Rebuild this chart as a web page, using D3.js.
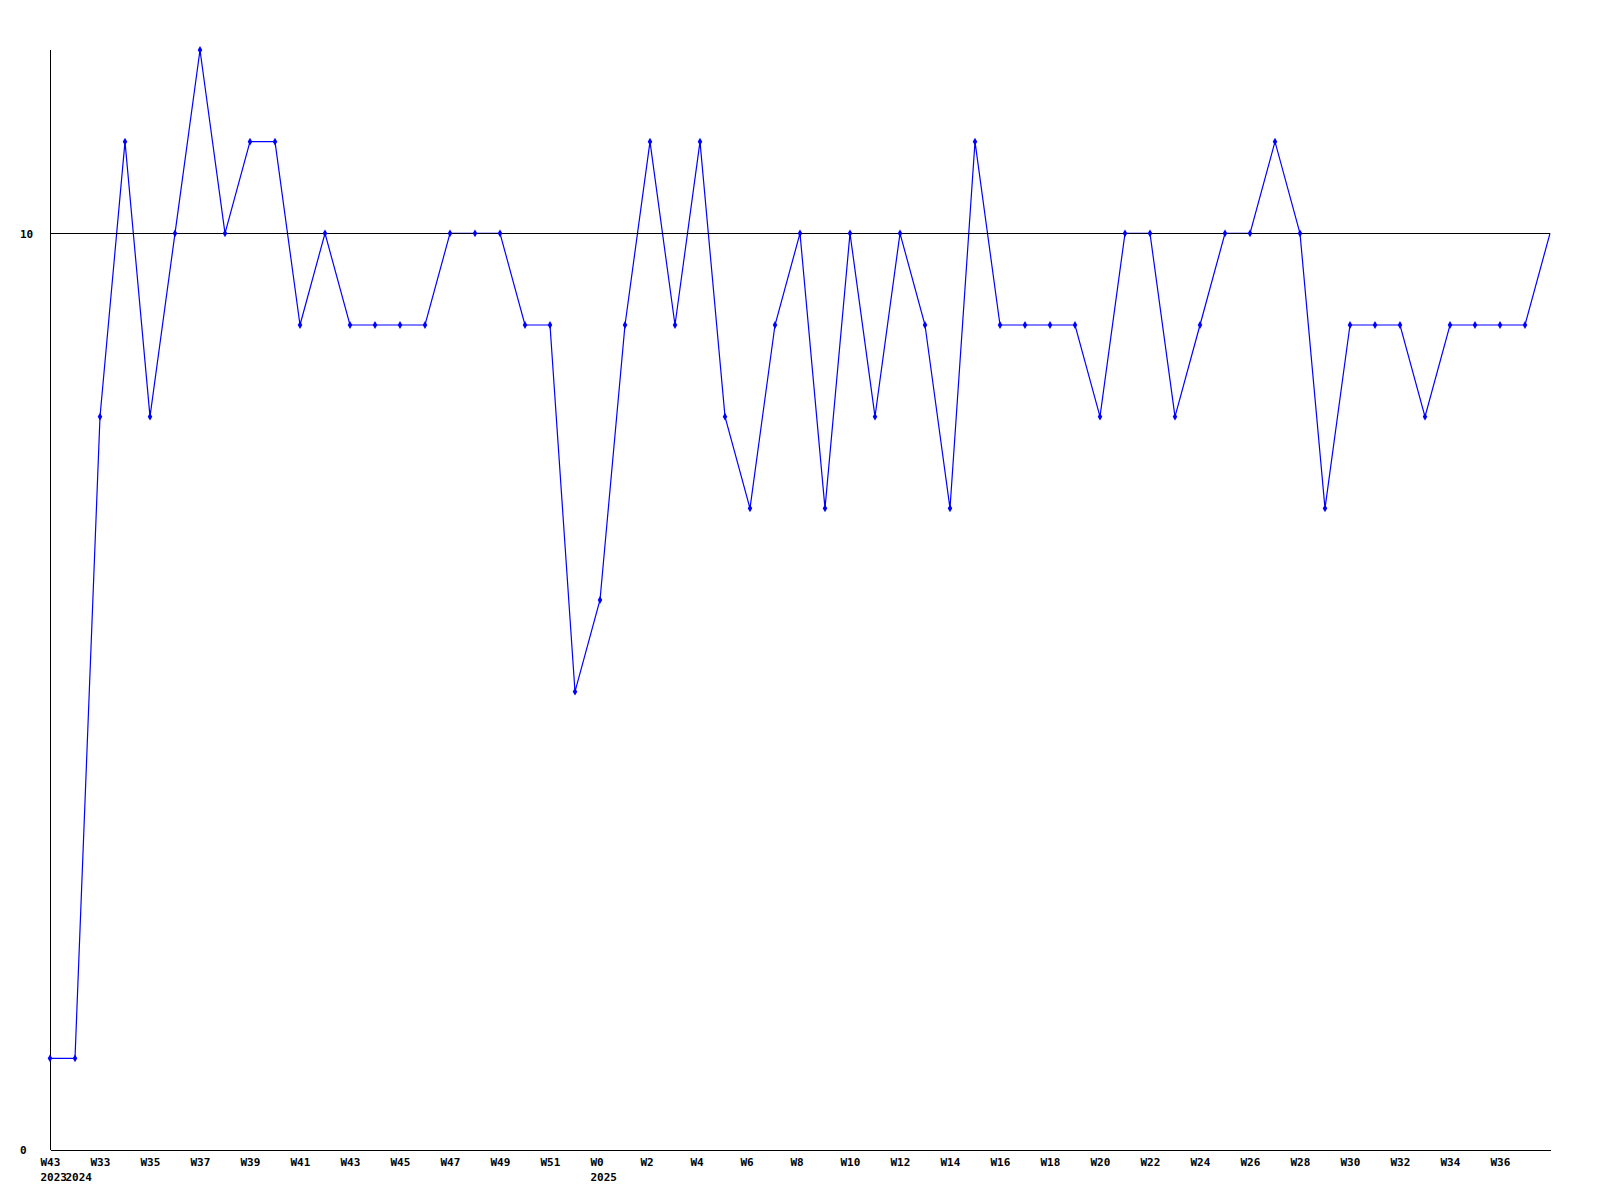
<!DOCTYPE html>
<html>
<head>
<meta charset="utf-8">
<script src="https://cdn.jsdelivr.net/npm/d3@7"></script>
<style>
  body { margin: 0; background: #fff; }
  text { font-family: "DejaVu Sans Mono", "Liberation Mono", monospace; font-size: 11px; font-weight: bold; }
</style>
</head>
<body>
<svg></svg>
<script>
// weekly values, one per week
let weeks = [
    'W43', 'W32', 'W33', 'W34', 'W35', 'W36', 'W37', 'W38', 'W39', 'W40',
    'W41', 'W42', 'W43', 'W44', 'W45', 'W46', 'W47', 'W48', 'W49', 'W50',
    'W51', 'W52', 'W0', 'W1', 'W2', 'W3', 'W4', 'W5', 'W6', 'W7',
    'W8', 'W9', 'W10', 'W11', 'W12', 'W13', 'W14', 'W15', 'W16', 'W17',
    'W18', 'W19', 'W20', 'W21', 'W22', 'W23', 'W24', 'W25', 'W26', 'W27',
    'W28', 'W29', 'W30', 'W31', 'W32', 'W33', 'W34', 'W35', 'W36', 'W37',
    'W38'
];
let values = [
    1, 1, 8, 11, 8, 10, 12, 10, 11, 11,
    9, 10, 9, 9, 9, 9, 10, 10, 10, 9,
    9, 5, 6, 9, 11, 9, 11, 8, 7, 9,
    10, 7, 10, 8, 10, 9, 7, 11, 9, 9,
    9, 9, 8, 10, 10, 8, 9, 10, 10, 11,
    10, 7, 9, 9, 9, 8, 9, 9, 9, 9,
    10
];
// year label shown under the first week of each year
let yearIdx = [0, 1, 22];
let yearText = ['2023', '2024', '2025'];
let yTicks = [0, 10];
let refValue = 10;

let width = 1600,
    height = 1200;

let svg = d3.select("svg")
    .attr("width", width)
    .attr("height", height);

let x = d3.scaleLinear().domain([0, values.length - 1]).range([50, 1550]);
let y = d3.scaleLinear().domain([0, 12]).range([1150, 50]);

let idx = d3.range(values.length);

// x axis: every second week, the open last week gets no label
let xAxis = svg.append("g")
    .attr("transform", "translate(0, 1150)")
    .call(d3.axisBottom(x)
        .tickValues(idx.filter(i => i % 2 === 0 && i < values.length - 1))
        .tickSize(0)
        .tickFormat(i => weeks[i]));
xAxis.select(".domain").attr("stroke", "#000").attr("d", "M50.5,0.5H1550.5").attr("shape-rendering", "crispEdges");
xAxis.selectAll("text")
    .attr("text-anchor", "start")
    .attr("dx", -10)
    .attr("y", 16)
    .attr("dy", 0)
    .attr("fill", "#000");

let yearAxis = svg.append("g")
    .attr("transform", "translate(0, 1150)")
    .call(d3.axisBottom(x)
        .tickValues(yearIdx)
        .tickSize(0)
        .tickFormat((d, i) => yearText[i]));
yearAxis.select(".domain").remove();
yearAxis.selectAll("text")
    .attr("text-anchor", "start")
    .attr("dx", -10)
    .attr("y", 31)
    .attr("dy", 0)
    .attr("fill", "#000");

// y axis
let yAxis = svg.append("g")
    .attr("transform", "translate(50, 0)")
    .call(d3.axisLeft(y).tickValues(yTicks).tickSize(0).tickFormat(d3.format("d")));
yAxis.select(".domain").attr("stroke", "#000").attr("d", "M0.5,50H0.5V1150").attr("shape-rendering", "crispEdges");
yAxis.selectAll("text")
    .attr("text-anchor", "start")
    .attr("x", -30)
    .attr("dy", "0.35em")
    .attr("fill", "#000");

// data line
let line = d3.line().x((d, i) => x(i)).y(d => y(d));
svg.append("path")
    .datum(values)
    .attr("d", line)
    .attr("fill", "none")
    .attr("stroke", "#0000ff")
    .attr("stroke-width", 1.2);

// reference line at 10
svg.append("line")
    .attr("x1", x(0)).attr("x2", x(values.length - 1))
    .attr("y1", Math.round(y(refValue)) + 0.5).attr("y2", Math.round(y(refValue)) + 0.5)
    .attr("stroke", "#000")
    .attr("shape-rendering", "crispEdges");

// markers (last week still open, no marker)
svg.selectAll(".pt")
    .data(values.slice(0, -1))
    .enter().append("path")
    .attr("class", "pt")
    .attr("d", d3.symbol().type(d3.symbolDiamond).size(18))
    .attr("transform", (d, i) => `translate(${x(i)}, ${y(d)})`)
    .attr("fill", "#0000ff");
</script>
</body>
</html>
